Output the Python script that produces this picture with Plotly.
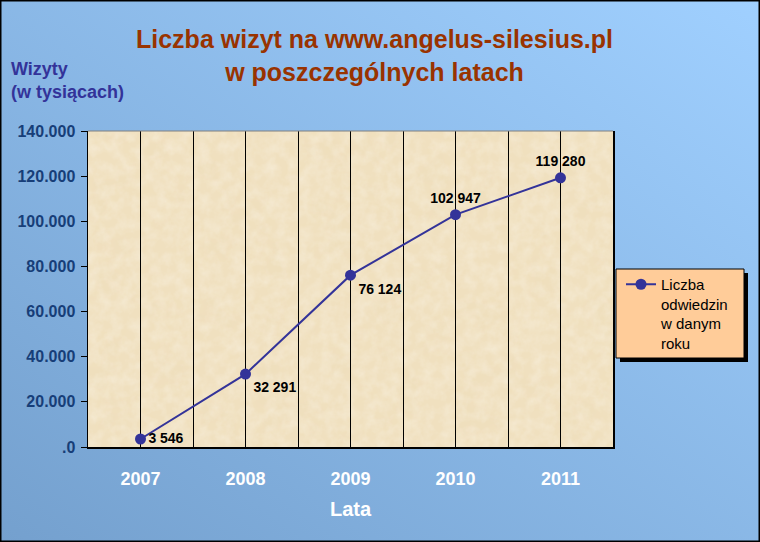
import base64
import plotly.graph_objects as go

years = ["2007", "2008", "2009", "2010", "2011"]
visits = [3546, 32291, 76124, 102947, 119280]
value_labels = ["3 546", "32 291", "76 124", "102 947", "119 280"]
label_pos = ["middle right", "bottom right", "bottom right", "top center", "top center"]
y_ticks = [0, 20000, 40000, 60000, 80000, 100000, 120000, 140000]
y_tick_labels = [".0", "20.000", "40.000", "60.000", "80.000", "100.000", "120.000", "140.000"]

W, H = 760, 542
L, R, T, B = 88, 147, 131, 95
PW, PH = W - L - R, H - T - B


def px_x(px):
    return (px - L) / PW


def px_y(py):
    return (H - B - py) / PH


def svg_uri(svg):
    return "data:image/svg+xml;base64," + base64.b64encode(svg.encode()).decode()


grad_svg = (
    f'<svg xmlns="http://www.w3.org/2000/svg" width="{W}" height="{H}" viewBox="0 0 {W} {H}" preserveAspectRatio="none">'
    '<defs><linearGradient id="g" x1="0" y1="1" x2="1" y2="0">'
    '<stop offset="0" stop-color="#74A0CE"/><stop offset="1" stop-color="#A0D0FF"/>'
    '</linearGradient></defs>'
    f'<rect width="{W}" height="{H}" fill="url(#g)"/></svg>'
)

tex_svg = (
    f'<svg xmlns="http://www.w3.org/2000/svg" width="{PW}" height="{PH}" viewBox="0 0 {PW} {PH}" preserveAspectRatio="none">'
    '<defs>'
    '<filter id="f" x="0" y="0" width="100%" height="100%">'
    '<feTurbulence type="fractalNoise" baseFrequency="0.03" numOctaves="5" seed="7"/>'
    '<feColorMatrix type="matrix" values="0 0 0 0 0.85  0 0 0 0 0.72  0 0 0 0 0.48  0.9 0 0 0 -0.38"/>'
    '</filter>'
    '<filter id="h" x="0" y="0" width="100%" height="100%">'
    '<feTurbulence type="fractalNoise" baseFrequency="0.09" numOctaves="4" seed="2"/>'
    '<feColorMatrix type="matrix" values="0 0 0 0 0.98  0 0 0 0 0.95  0 0 0 0 0.88  0.6 0 0 0 -0.2"/>'
    '</filter>'
    '</defs>'
    f'<rect width="{PW}" height="{PH}" fill="#F0E0BF"/>'
    f'<rect width="{PW}" height="{PH}" filter="url(#f)"/>'
    f'<rect width="{PW}" height="{PH}" filter="url(#h)"/>'
    '</svg>'
)

xs = list(range(len(years)))

fig = go.Figure()
fig.add_trace(go.Scatter(
    x=xs, y=visits,
    mode="lines+markers+text",
    name="Liczba<br>odwiedzin<br>w danym<br>roku",
    line=dict(color="#333399", width=2),
    marker=dict(color="#333399", size=11, symbol="circle"),
    text=value_labels,
    textposition=label_pos,
    textfont=dict(family="Liberation Sans, Arial", size=14, color="black", weight="bold"),
    cliponaxis=False,
))

fig.update_layout(
    width=W, height=H,
    margin=dict(l=L, r=R, t=T, b=B),
    paper_bgcolor="#88B5E5",
    plot_bgcolor="rgba(0,0,0,0)",
    font=dict(family="Liberation Sans, Arial"),
    showlegend=True,
    legend=dict(
        x=px_x(621), y=px_y(268), xanchor="left", yanchor="top",
        bgcolor="rgba(0,0,0,0)", borderwidth=0,
        font=dict(family="Liberation Sans, Arial", size=15, color="black"),
        valign="top",
    ),
    xaxis=dict(
        range=[-0.5, len(years) - 0.5],
        tickmode="array", tickvals=xs, ticktext=years,
        tickfont=dict(size=18, color="white", weight="bold"),
        showgrid=True, gridcolor="black", gridwidth=1,
        minor=dict(tickvals=[i + 0.5 for i in xs[:-1]], showgrid=True, gridcolor="black", gridwidth=1),
        showline=True, linecolor="black", linewidth=1.5,
        ticks="", ticklabelstandoff=15,
        zeroline=False,
        title=dict(text="Lata", font=dict(size=20, color="white", weight="bold"), standoff=14),
        fixedrange=True,
    ),
    yaxis=dict(
        range=[0, 140000],
        tickmode="array", tickvals=y_ticks, ticktext=y_tick_labels,
        tickfont=dict(size=16, color="#173E78", weight="bold"),
        showgrid=False, zeroline=False,
        showline=True, linecolor="black", linewidth=1.5, mirror=True,
        ticks="outside", ticklen=6, tickcolor="black",
        ticklabelstandoff=2,
    ),
    images=[
        dict(source=svg_uri(grad_svg), xref="paper", yref="paper",
             x=px_x(0), y=px_y(0), sizex=W / PW, sizey=H / PH,
             xanchor="left", yanchor="top", sizing="stretch", layer="below"),
        dict(source=svg_uri(tex_svg), xref="paper", yref="paper",
             x=0, y=1, sizex=1, sizey=1,
             xanchor="left", yanchor="top", sizing="stretch", layer="below"),
    ],
    shapes=[
        dict(type="line", xref="paper", yref="paper", x0=0, x1=1, y0=1, y1=1,
             line=dict(color="#808080", width=1), layer="above"),
        dict(type="rect", xref="paper", yref="paper",
             x0=px_x(620), x1=px_x(748), y0=px_y(362), y1=px_y(273),
             fillcolor="black", line=dict(width=0), layer="above"),
        dict(type="rect", xref="paper", yref="paper",
             x0=px_x(616), x1=px_x(744), y0=px_y(358), y1=px_y(269),
             fillcolor="#FFCC99", line=dict(color="black", width=1), layer="above"),
        dict(type="rect", xref="paper", yref="paper",
             x0=px_x(0), x1=px_x(W), y0=px_y(H), y1=px_y(0),
             line=dict(color="black", width=3), layer="above"),
    ],
    annotations=[
        dict(text="Liczba wizyt na www.angelus-silesius.pl<br>w poszczególnych latach",
             xref="paper", yref="paper", x=px_x(374), y=px_y(55),
             xanchor="center", yanchor="middle", showarrow=False,
             font=dict(size=25, color="#993300", weight="bold")),
        dict(text="Wizyty<br>(w tysiącach)",
             xref="paper", yref="paper", x=px_x(9), y=px_y(80),
             xanchor="left", yanchor="middle", align="left", showarrow=False,
             font=dict(size=18, color="#333399", weight="bold")),
    ],
)

fig.write_html(
    "out.html",
    config={"displayModeBar": False, "staticPlot": True},
    post_script="document.body.style.margin='0';document.body.style.overflow='hidden';",
)
